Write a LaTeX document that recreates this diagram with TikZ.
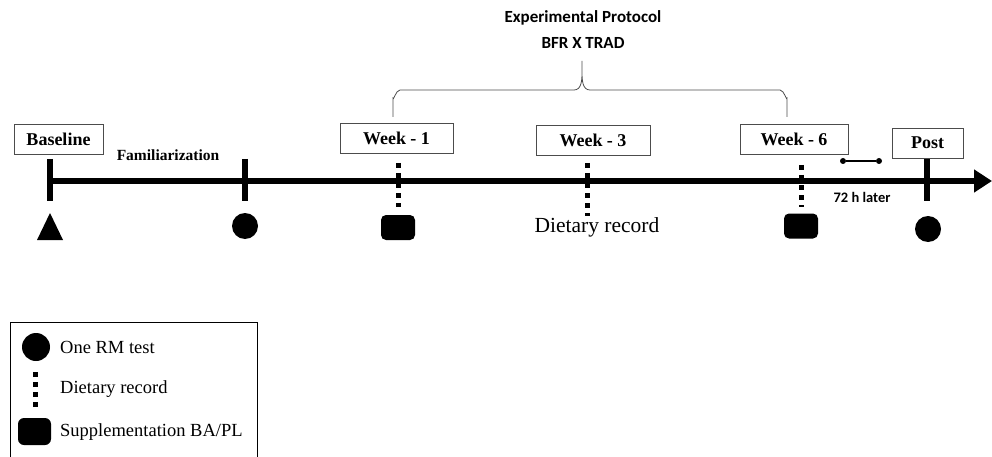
\documentclass[tikz,border=0pt]{standalone}
\usepackage{fontspec}
\setmainfont{Liberation Serif}
\newfontfamily\calib{Carlito}
\usetikzlibrary{arrows.meta}
\begin{document}
\begin{tikzpicture}[x=1pt,y=-1pt,
  lbl/.style={draw=black!70,line width=0.8pt,fill=white,minimum height=30pt,font=\bfseries\fontsize{18}{20}\selectfont,inner sep=0pt},
  tick/.style={line width=5.5pt},
  dots/.style={line width=5pt,dash pattern=on 5pt off 5pt},
  sq/.style={fill=black,rounded corners=5pt,minimum width=34pt,minimum height=25pt,inner sep=0pt},
  dot/.style={circle,fill=black,minimum size=26pt,inner sep=0pt},
  legtxt/.style={font=\fontsize{18.5}{20}\selectfont,anchor=west,inner sep=0pt},
  txt/.style={font=\fontsize{21.5}{23}\selectfont,inner sep=0pt}]
\useasboundingbox (0,0) rectangle (992,457);
% title
\node[font=\calib\bfseries\fontsize{17}{19}\selectfont,inner sep=0pt] (title1) at (583,18) {Experimental Protocol};
\node[font=\calib\bfseries\fontsize{17}{19}\selectfont,inner sep=0pt] (title2) at (583,43) {BFR X TRAD};
% brace
\draw[black!70,line width=0.8pt] (393,117) -- (393,98) to[out=-90,in=180] (400,90) -- (574,90) to[out=0,in=-90] (582,72) -- (582,61)
  (582,72) to[out=-90,in=180] (590,90) -- (780,90) to[out=0,in=-90] (787,98) -- (787,117);
% axis
\coordinate (start) at (47,181);
\coordinate (end) at (992,181);
\draw[line width=6pt,-{Triangle[length=18pt,width=22pt]}] (start) -- (end);
% ticks
\draw[tick] (50,159) -- (50,201);
\draw[tick] (245,159) -- (245,201);
\draw[tick] (927,159) -- (927,201);
% label boxes
\node[lbl,minimum width=89pt] (base) at (58.5,139) {Baseline};
\node[lbl,minimum width=113pt] (w1) at (396.5,138) {Week - 1};
\node[lbl,minimum width=114pt] (w3) at (593,140) {Week - 3};
\node[lbl,minimum width=108pt] (w6) at (794,139) {Week - 6};
\node[lbl,minimum width=71pt] (post) at (927.5,143) {Post};
\node[font=\bfseries\fontsize{15.5}{17}\selectfont,inner sep=0pt] (fam) at (168,155) {Familiarization};
% dotted
\draw[dots] (398,163) -- (398,207);
\draw[dots] (587,163) -- (587,216);
\draw[dots] (801,165) -- (801,207);
% markers
\fill (50,213) -- (63,240) -- (37,240) -- cycle;
\node[dot] (c1) at (245,226) {};
\node[sq] (s1) at (398,227.5) {};
\node[txt] (diet) at (597,227) {Dietary record};
\node[sq] (s6) at (801,226) {};
\node[dot] (c2) at (928,229) {};
% 72 h
\node[circle,fill=black,inner sep=0pt,minimum size=6pt] (p1) at (843,161) {};
\node[circle,fill=black,inner sep=0pt,minimum size=6pt] (p2) at (879,161) {};
\draw[line width=1.2pt] (p1) -- (p2);
\node[font=\calib\bfseries\fontsize{14.5}{16}\selectfont,inner sep=0pt] (later) at (862,197) {72 h later};
% legend
\draw[line width=0.9pt] (10,470) -- (10,322) -- (257,322) -- (257,470);
\node[dot,minimum size=28pt] (lc) at (36,347) {};
\node[legtxt] (l1) at (60,347) {One RM test};
\draw[dots] (35,372) -- (35,409);
\node[legtxt] (l2) at (60,389) {Dietary record};
\node[sq,minimum width=33pt,minimum height=27pt,rounded corners=6pt] (ls) at (34.5,431.5) {};
\node[legtxt] (l3) at (60,432) {Supplementation BA/PL};
\end{tikzpicture}
\end{document}
